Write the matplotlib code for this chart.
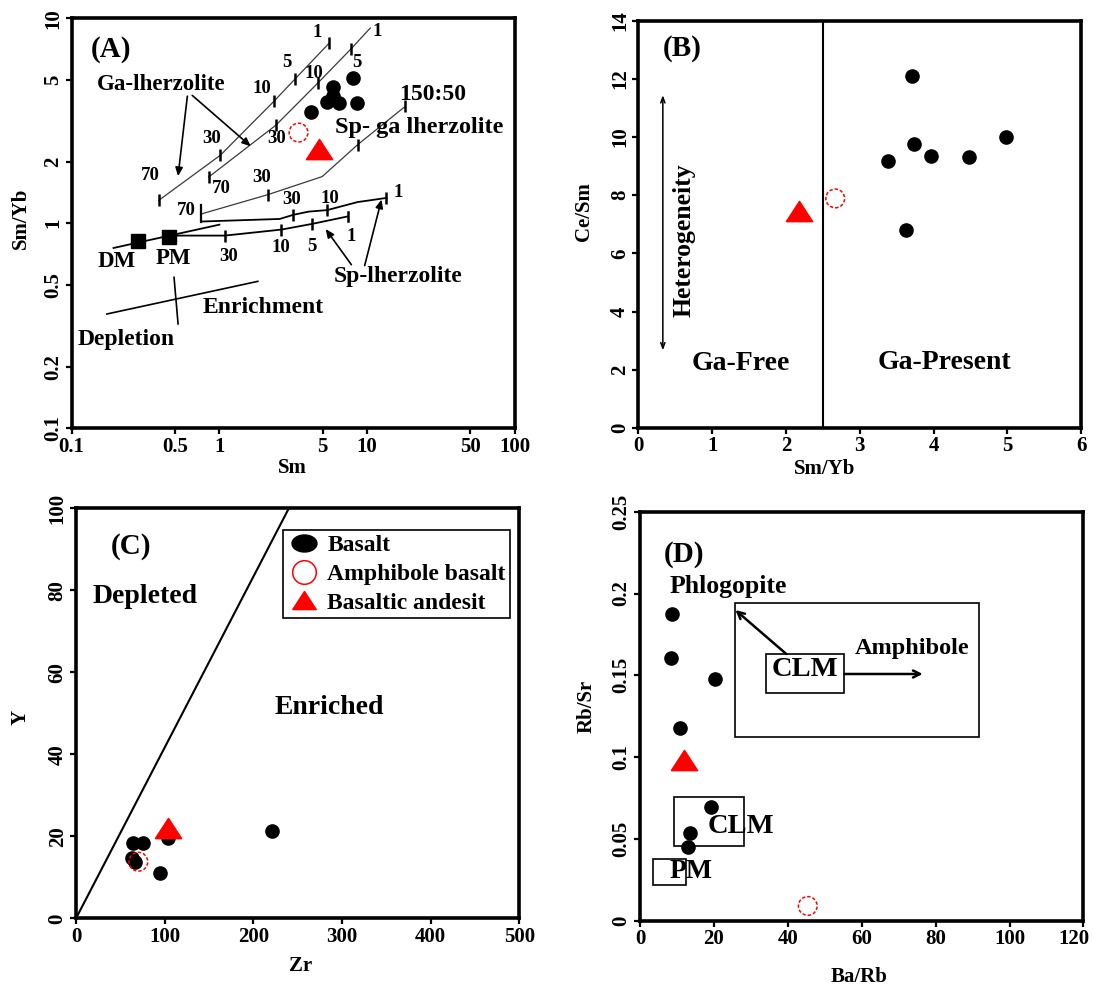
import numpy as np
import matplotlib
matplotlib.use('Agg')
import matplotlib.pyplot as plt
from matplotlib.lines import Line2D
from matplotlib.patches import Rectangle
from matplotlib.ticker import NullLocator
from matplotlib.transforms import ScaledTranslation

plt.rcParams['font.family'] = ['Liberation Serif', 'DejaVu Serif']
plt.rcParams['font.weight'] = 'bold'
plt.rcParams['axes.labelweight'] = 'bold'

# ---------------- data: panel A (Sm vs Sm/Yb) ----------------
basaltA_sm = [8.04, 5.89, 5.89, 5.31, 6.47, 8.48, 4.14]
basaltA_smyb = [5.10, 4.64, 4.18, 3.92, 3.85, 3.85, 3.50]
amphA_sm = [3.43]
amphA_smyb = [2.77]
andesA_sm = [4.75]
andesA_smyb = [2.30]
dm_pt = [0.281, 0.817]
pm_pt = [0.455, 0.861]
gaL1_sm = [0.389, 1.016, 2.34, 3.25, 5.51]
gaL1_smyb = [1.295, 2.15, 3.94, 5.06, 7.55]
gaL2_sm = [0.845, 2.41, 4.63, 7.77, 10.5]
gaL2_smyb = [1.68, 3.01, 4.83, 7.09, 8.97]
gaL2_tick_sm = [0.845, 2.41, 4.63, 7.77]
gaL2_tick_smyb = [1.68, 3.01, 4.83, 7.09]
spga_sm = [0.752, 2.13, 4.96, 8.63, 18.1]
spga_smyb = [1.11, 1.38, 1.69, 2.42, 3.72]
spga_tick_sm = [2.13, 8.63, 18.1]
spga_tick_smyb = [1.38, 2.42, 3.72]
spU_sm = [0.752, 2.56, 3.16, 4.01, 5.37, 8.63, 10.1, 13.5]
spU_smyb = [1.02, 1.05, 1.10, 1.14, 1.16, 1.27, 1.29, 1.33]
spU_tick_sm = [3.16, 5.37, 13.5]
spU_tick_smyb = [1.10, 1.16, 1.33]
spL_sm = [0.455, 1.09, 2.63, 4.23, 7.37]
spL_smyb = [0.871, 0.871, 0.932, 0.993, 1.08]
spL_tick_sm = [1.09, 2.63, 4.23]
spL_tick_smyb = [0.871, 0.932, 0.993]
bracket70_sm = [0.752, 0.752]
bracket70_smyb = [1.02, 1.23]
end1_sm = [7.37, 7.37]
end1_smyb = [1.03, 1.13]
dmpm_sm = [0.192, 1.0]
dmpm_smyb = [0.758, 0.985]
enrich_sm = [0.173, 1.82]
enrich_smyb = [0.361, 0.521]
deplet_sm = [0.493, 0.525]
deplet_smyb = [0.545, 0.323]

# ---------------- data: panel B (Sm/Yb vs Ce/Sm) ----------------
basaltB_smyb = [3.715, 3.378, 3.738, 3.960, 4.486, 4.985, 3.632]
basaltB_cesm = [12.11, 9.16, 9.75, 9.36, 9.30, 10.01, 6.82]
amphB_smyb = [2.668]
amphB_cesm = [7.89]
andesB_smyb = [2.183]
andesB_cesm = [7.45]
garnet_limit = 2.5
hetero_x = 0.332
hetero_y = [2.67, 11.44]

# ---------------- data: panel C (Zr vs Y) ----------------
basaltC_zr = [64.6, 75.9, 62.8, 66.5, 94.7, 104.1, 220.5]
basaltC_y = [18.3, 18.3, 14.6, 13.8, 11.0, 19.5, 21.4]
amphC_zr = [70.3]
amphC_y = [13.8]
andesC_zr = [104.1]
andesC_y = [22.0]
divide_zr = [0, 240]
divide_y = [0, 100]

# ---------------- data: panel D (Ba/Rb vs Rb/Sr) ----------------
basaltD_barb = [8.57, 8.39, 20.28, 10.78, 19.17, 13.55, 12.90]
basaltD_rbsr = [0.1872, 0.1603, 0.1475, 0.1176, 0.0697, 0.0538, 0.0452]
amphD_barb = [45.4]
amphD_rbsr = [0.0090]
andesD_barb = [11.80]
andesD_rbsr = [0.0982]
# field boxes: (x0, x1, y0, y1)
box_amph = (25.8, 91.7, 0.1125, 0.1944)
box_clm_up = (34.1, 55.3, 0.139, 0.163)
box_clm_low = (9.2, 28.1, 0.0458, 0.0754)
box_pm = (3.4, 12.4, 0.0218, 0.0375)

# ---------------- styles ----------------
TRI = [(-1, -0.77), (1, -0.77), (0, 0.77), (-1, -0.77)]
ELL = [(np.cos(t), 0.68 * np.sin(t)) for t in np.linspace(0, 2 * np.pi, 40)]
DOT_MS = 9.5
TRI_MS = 19
CIRC_S = 13.5 ** 2
TICK_FS = 15
LAB_FS = 15


def basalt(ax, x, y):
    ax.plot(x, y, 'o', ms=DOT_MS, color='black', ls='none', zorder=4)


def amph(ax, x, y):
    ax.scatter(x, y, s=CIRC_S, facecolors='none', edgecolors='red',
               linewidths=1.1, linestyles=(0, (2.2, 1.3)), zorder=5)


def andes(ax, x, y):
    ax.plot(x, y, marker=TRI, ms=TRI_MS, color='red', ls='none', zorder=6)


def style(ax, xt, xl, yt, yl):
    for s in ax.spines.values():
        s.set_linewidth(2.6)
    ax.set_xticks(xt)
    ax.set_xticklabels(xl, fontsize=TICK_FS, fontweight='bold')
    ax.set_yticks(yt)
    ax.set_yticklabels(yl, fontsize=TICK_FS, fontweight='bold', rotation=90, va='center')
    ax.xaxis.set_minor_locator(NullLocator())
    ax.yaxis.set_minor_locator(NullLocator())
    ax.tick_params(direction='out', length=4, width=1.6, pad=2)


def txt(ax, fx, fy, s, size, **kw):
    ax.text(fx, fy, s, transform=ax.transAxes, ha='center', va='center',
            fontsize=size, fontweight='bold', **kw)


fig = plt.figure(figsize=(10.94, 9.85), dpi=100)
axA = fig.add_axes([0.0655, 0.5652, 0.4052, 0.4162])
axB = fig.add_axes([0.5835, 0.5655, 0.4047, 0.4135])
axC = fig.add_axes([0.0695, 0.0677, 0.4052, 0.4162])
axD = fig.add_axes([0.5850, 0.0653, 0.4054, 0.4152])

# ================= Panel A =================
ax = axA
ax.set_xscale('log')
ax.set_yscale('log')
ax.set_xlim(0.1, 100)
ax.set_ylim(0.1, 10)
thin = dict(color='#3a3a3a', lw=0.9, zorder=2)
ax.plot(gaL1_sm, gaL1_smyb, **thin)
ax.plot(gaL2_sm, gaL2_smyb, **thin)
ax.plot(spga_sm, spga_smyb, **thin)
ax.plot(spU_sm, spU_smyb, color='black', lw=1.3, zorder=2)
ax.plot(spL_sm, spL_smyb, color='black', lw=1.3, zorder=2)
ax.plot(dmpm_sm, dmpm_smyb, color='black', lw=1.3, zorder=2)
ax.plot(bracket70_sm, bracket70_smyb, color='black', lw=1.6, zorder=2)
ax.plot(end1_sm, end1_smyb, color='black', lw=1.8, zorder=2)
tk = dict(marker='|', ms=8, mew=1.8, color='black', ls='none', zorder=3)
ax.plot(gaL1_sm, gaL1_smyb, **tk)
ax.plot(gaL2_tick_sm, gaL2_tick_smyb, **tk)
ax.plot(spga_tick_sm, spga_tick_smyb, **tk)
ax.plot(spU_tick_sm, spU_tick_smyb, **tk)
ax.plot(spL_tick_sm, spL_tick_smyb, **tk)
ax.plot(enrich_sm, enrich_smyb, color='black', lw=1.2)
ax.plot(deplet_sm, deplet_smyb, color='black', lw=1.2)
ax.plot([dm_pt[0]], [dm_pt[1]], 's', ms=9.5, color='black', zorder=4)
ax.plot([pm_pt[0]], [pm_pt[1]], 's', ms=9.5, color='black', zorder=4)
basalt(ax, basaltA_sm, basaltA_smyb)
amph(ax, amphA_sm, amphA_smyb)
andes(ax, andesA_sm, andesA_smyb)
style(ax, [0.1, 0.5, 1, 5, 10, 50, 100], ['0.1', '0.5', '1', '5', '10', '50', '100'],
      [0.1, 0.2, 0.5, 1, 2, 5, 10], ['0.1', '0.2', '0.5', '1', '2', '5', '10'])
ax.set_ylabel('Sm/Yb', fontsize=LAB_FS, va='center')
ax.yaxis.set_label_coords(-0.115, 0.513)
ax.set_xlabel('Sm', fontsize=LAB_FS, va='center')
ax.xaxis.set_label_coords(0.497, -0.097)
num = 13.5
for fx, fy, s in [(0.553, 0.965, '1'), (0.485, 0.892, '5'), (0.430, 0.829, '10'),
                  (0.315, 0.706, '30'), (0.177, 0.617, '70'),
                  (0.689, 0.967, '1'), (0.644, 0.893, '5'), (0.546, 0.865, '10'),
                  (0.462, 0.708, '30'), (0.338, 0.585, '70'),
                  (0.429, 0.611, '30'), (0.259, 0.531, '70'),
                  (0.496, 0.559, '30'), (0.583, 0.560, '10'), (0.736, 0.574, '1'),
                  (0.630, 0.468, '1'), (0.542, 0.444, '5'), (0.473, 0.440, '10'),
                  (0.355, 0.419, '30')]:
    txt(ax, fx, fy, s, num)
txt(ax, 0.814, 0.813, '150:50', 17)
txt(ax, 0.101, 0.407, 'DM', 16.5)
txt(ax, 0.230, 0.414, 'PM', 16.5)
txt(ax, 0.202, 0.839, 'Ga-lherzolite', 16.5)
txt(ax, 0.783, 0.734, 'Sp- ga lherzolite', 17.5)
txt(ax, 0.736, 0.371, 'Sp-lherzolite', 17)
txt(ax, 0.431, 0.295, 'Enrichment', 17)
txt(ax, 0.124, 0.216, 'Depletion', 17)
txt(ax, 0.089, 0.924, '(A)', 21)
arr = dict(arrowstyle='-|>,head_length=0.5,head_width=0.22', color='black', lw=1.2,
           shrinkA=0, shrinkB=0)
for (x0, y0), (x1, y1) in [((0.261, 0.810), (0.240, 0.615)),
                           ((0.272, 0.812), (0.404, 0.688)),
                           ((0.631, 0.399), (0.573, 0.486)),
                           ((0.661, 0.397), (0.699, 0.558))]:
    ax.annotate('', xy=(x1, y1), xytext=(x0, y0), xycoords='axes fraction',
                textcoords='axes fraction', arrowprops=arr)

# ================= Panel B =================
ax = axB
ax.set_xlim(0, 6)
ax.set_ylim(0, 14)
ax.axvline(garnet_limit, color='black', lw=1.5)
ax.annotate('', xy=(hetero_x, hetero_y[1]), xytext=(hetero_x, hetero_y[0]),
            arrowprops=dict(arrowstyle='<->,head_length=0.4,head_width=0.15',
                            color='black', lw=1.1, shrinkA=0, shrinkB=0))
basalt(ax, basaltB_smyb, basaltB_cesm)
amph(ax, amphB_smyb, amphB_cesm)
andes(ax, andesB_smyb, andesB_cesm)
style(ax, range(0, 7), [str(v) for v in range(0, 7)],
      range(0, 15, 2), [str(v) for v in range(0, 15, 2)])
ax.set_ylabel('Ce/Sm', fontsize=LAB_FS, va='center')
ax.yaxis.set_label_coords(-0.122, 0.531)
ax.set_xlabel('Sm/Yb', fontsize=LAB_FS, va='center')
ax.xaxis.set_label_coords(0.421, -0.100)
txt(ax, 0.098, 0.932, '(B)', 21)
txt(ax, 0.104, 0.461, 'Heterogeneity', 18.5, rotation=90)
txt(ax, 0.232, 0.158, 'Ga-Free', 20)
txt(ax, 0.691, 0.162, 'Ga-Present', 20)

# ================= Panel C =================
ax = axC
ax.set_xlim(0, 500)
ax.set_ylim(0, 100)
ax.plot(divide_zr, divide_y, color='black', lw=1.5)
basalt(ax, basaltC_zr, basaltC_y)
amph(ax, amphC_zr, amphC_y)
andes(ax, andesC_zr, andesC_y)
style(ax, range(0, 501, 100), [str(v) for v in range(0, 501, 100)],
      range(0, 101, 20), [str(v) for v in range(0, 101, 20)])
ax.set_ylabel('Y', fontsize=LAB_FS, va='center')
ax.yaxis.set_label_coords(-0.124, 0.491)
ax.set_xlabel('Zr', fontsize=LAB_FS, va='center')
ax.xaxis.set_label_coords(0.507, -0.117)
txt(ax, 0.123, 0.906, '(C)', 21)
txt(ax, 0.155, 0.784, 'Depleted', 20)
txt(ax, 0.571, 0.515, 'Enriched', 20)
handles = [Line2D([], [], marker=ELL, ms=18, color='black', ls='none'),
           Line2D([], [], marker='o', ms=17, mfc='none', mec='red', mew=1.1, ls='none'),
           Line2D([], [], marker=TRI, ms=17, color='red', ls='none')]
leg = ax.legend(handles, ['Basalt', 'Amphibole basalt', 'Basaltic andesit'],
                loc='upper left', bbox_to_anchor=(0.468, 0.947), frameon=True,
                fancybox=False, edgecolor='black', framealpha=1,
                prop=dict(family='Liberation Serif', weight='bold', size=17),
                borderpad=0.2, handlelength=1.3, handletextpad=0.35,
                labelspacing=0.3, borderaxespad=0)
leg.get_frame().set_linewidth(1.2)

# ================= Panel D =================
ax = axD
ax.set_xlim(0, 120)
ax.set_ylim(0, 0.25)
for (x0, x1, y0, y1) in [box_amph, box_clm_up, box_clm_low, box_pm]:
    ax.add_patch(Rectangle((x0, y0), x1 - x0, y1 - y0, fill=(x0 == box_clm_up[0]),
                           facecolor='white', edgecolor='black', lw=1.2, zorder=2))
ax.annotate('', xy=(box_amph[0], 0.1899), xytext=(39.6, box_clm_up[3]),
            arrowprops=dict(arrowstyle='->,head_length=0.5,head_width=0.25',
                            color='black', lw=1.8, shrinkA=0, shrinkB=0))
ax.annotate('', xy=(76.5, 0.1508), xytext=(box_clm_up[1], 0.1508),
            arrowprops=dict(arrowstyle='->,head_length=0.5,head_width=0.25',
                            color='black', lw=1.8, shrinkA=0, shrinkB=0))
basalt(ax, basaltD_barb, basaltD_rbsr)
amph(ax, amphD_barb, amphD_rbsr)
andes(ax, andesD_barb, andesD_rbsr)
style(ax, range(0, 121, 20), [str(v) for v in range(0, 121, 20)],
      [0, 0.05, 0.1, 0.15, 0.2, 0.25], ['0', '0.05', '0.1', '0.15', '0.2', '0.25'])
last = ax.get_xticklabels()[-1]
last.set_transform(last.get_transform() + ScaledTranslation(-10 / 100, 0, fig.dpi_scale_trans))
ax.set_ylabel('Rb/Sr', fontsize=LAB_FS, va='center')
ax.yaxis.set_label_coords(-0.121, 0.523)
ax.set_xlabel('Ba/Rb', fontsize=LAB_FS, va='center')
ax.xaxis.set_label_coords(0.493, -0.137)
txt(ax, 0.100, 0.896, '(D)', 21)
txt(ax, 0.198, 0.818, 'Phlogopite', 18.5)
txt(ax, 0.614, 0.666, 'Amphibole', 17.5)
txt(ax, 0.371, 0.614, 'CLM', 20.5)
txt(ax, 0.228, 0.230, 'CLM', 20.5)
txt(ax, 0.115, 0.120, 'PM', 20)

fig.savefig('out.png', dpi=100)
